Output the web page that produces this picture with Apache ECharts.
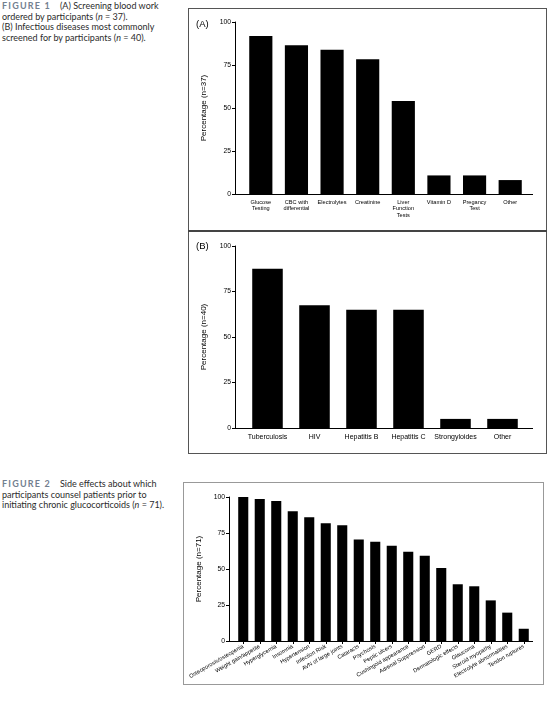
<!DOCTYPE html>
<html>
<head>
<meta charset="utf-8">
<script src="https://cdn.jsdelivr.net/npm/echarts@6/dist/echarts.min.js"></script>
<style>
  html, body { margin: 0; padding: 0; background: #fff; }
  #wrap { position: relative; width: 556px; height: 704px; }
  #chart { position: absolute; left: 0; top: 0; width: 556px; height: 704px; }
  .cap { position: absolute; left: 2px; font-family: Lato, "Open Sans", sans-serif; font-size: 9px; line-height: 10.5px; color: #2b2b2b; white-space: nowrap; }
  .fig { font-weight: bold; color: #72808f; letter-spacing: 1.2px; margin-right: 9px; }
  .box { position: absolute; box-sizing: border-box; }
</style>
</head>
<body>
<div id="wrap">
  <div class="box" style="left:188px;top:8px;width:359px;height:446px;border:1px solid #555;"></div>
  <div class="box" style="left:188px;top:230px;width:359px;height:2px;background:#444;"></div>
  <div class="box" style="left:183px;top:482px;width:361px;height:203px;border:1px solid #999;"></div>
  <div class="cap" style="top:1px;">
    <span class="fig">FIGURE 1</span>(A) Screening blood work<br>
    ordered by participants (<i>n</i> = 37).<br>
    (B) Infectious diseases most commonly<br>
    screened for by participants (<i>n</i> = 40).
  </div>
  <div class="cap" style="top:479px;">
    <span class="fig">FIGURE 2</span>Side effects about which<br>
    participants counsel patients prior to<br>
    initiating chronic glucocorticoids (<i>n</i> = 71).
  </div>
  <div id="chart"></div>
</div>
<script>
// Figure 1A - screening blood work (n=37)
var bloodCategories = ['Glucose\nTesting', 'CBC with\ndifferential', 'Electrolytes', 'Creatinine',
  'Liver\nFunction\nTests', 'Vitamin D', 'Pregancy\nTest', 'Other'];
var bloodValues = [91.9, 86.5, 83.8, 78.4, 54.1, 10.8, 10.8, 8.1];

// Figure 1B - infectious diseases (n=40)
var infectCategories = ['Tuberculosis', 'HIV', 'Hepatitis B', 'Hepatitis C', 'Strongyloides', 'Other'];
var infectValues = [87.5, 67.5, 65, 65, 5, 5];

// Figure 2 - side effects (n=71)
var sideCategories = ['Osteoporosis/osteopenia', 'Weight gain/appetite', 'Hyperglycemia', 'Insomnia',
  'Hypertension', 'Infection Risk', 'AVN of large joints', 'Cataracts', 'Psychosis', 'Peptic ulcers',
  'Cushingoid appearance', 'Adrenal Suppression', 'GERD', 'Dermatologic effects', 'Glaucoma',
  'Steroid myopathy', 'Electrolyte abnormalities', 'Tendon ruptures'];
var sideValues = [100, 98.6, 97.2, 90.1, 85.9, 81.7, 80.3, 70.4, 69.0, 66.2, 62.0, 59.2, 50.7,
  39.4, 38.0, 28.2, 19.7, 8.5];

var yTicks = [0, 25, 50, 75, 100];

var font = 'Liberation Sans';

function yAxisFor(idx, name, off, gap, nameSize) {
  return {
    type: 'value', gridIndex: idx, min: 0, max: 100, interval: 25, offset: off,
    name: name, nameLocation: 'middle', nameGap: gap,
    nameTextStyle: { fontFamily: font, fontSize: nameSize, color: '#000' },
    axisLine: { show: true, lineStyle: { color: '#000', width: 1 } },
    axisTick: { show: true, length: 3, lineStyle: { color: '#000' } },
    axisLabel: { fontFamily: font, fontSize: 6.8, color: '#000', margin: 4,
      formatter: function (v) { return yTicks.indexOf(v) >= 0 ? v : ''; } },
    splitLine: { show: false }
  };
}

var myChart = echarts.init(document.getElementById('chart'));
var option = {
  animation: false,
  title: [
    { text: '(A)', left: 191, top: 14, textStyle: { fontFamily: font, fontSize: 9.5, fontWeight: 'normal', color: '#000' } },
    { text: '(B)', left: 191, top: 236, textStyle: { fontFamily: font, fontSize: 9.5, fontWeight: 'normal', color: '#000' } }
  ],
  grid: [
    { left: 243, top: 22, width: 285, height: 172 },
    { left: 244, top: 246, width: 282, height: 182 },
    { left: 235, top: 497, width: 297, height: 144 }
  ],
  xAxis: [
    { type: 'category', gridIndex: 0, data: bloodCategories,
      axisLine: { lineStyle: { color: '#000' } }, axisTick: { show: false },
      axisLabel: { fontFamily: font, fontSize: 5.6, color: '#000', margin: 5, lineHeight: 6.5, interval: 0 } },
    { type: 'category', gridIndex: 1, data: infectCategories,
      axisLine: { lineStyle: { color: '#000' } }, axisTick: { show: false },
      axisLabel: { fontFamily: font, fontSize: 7, color: '#000', margin: 6, interval: 0 } },
    { type: 'category', gridIndex: 2, data: sideCategories,
      axisLine: { lineStyle: { color: '#000' } },
      axisTick: { show: true, alignWithLabel: true, length: 3, lineStyle: { color: '#000' } },
      axisLabel: { fontFamily: font, fontSize: 5.6, color: '#000', margin: 5, rotate: 30, interval: 0 } }
  ],
  yAxis: [
    yAxisFor(0, 'Percentage (n=37)', 8, 27, 8),
    yAxisFor(1, 'Percentage (n=40)', 9, 27, 8),
    yAxisFor(2, 'Percentage (n=71)', 6, 25, 8)
  ],
  graphic: [
    // baseline extensions so the x-axis line meets the offset y-axis, as in Prism
    { type: 'line', shape: { x1: 235, y1: 194.5, x2: 533, y2: 194.5 }, style: { stroke: '#000', lineWidth: 1 } },
    { type: 'line', shape: { x1: 235, y1: 428.5, x2: 533, y2: 428.5 }, style: { stroke: '#000', lineWidth: 1 } },
    { type: 'line', shape: { x1: 229, y1: 641.5, x2: 533, y2: 641.5 }, style: { stroke: '#000', lineWidth: 1 } }
  ],
  series: [
    { type: 'bar', xAxisIndex: 0, yAxisIndex: 0, data: bloodValues, barWidth: '65%',
      itemStyle: { color: '#000' } },
    { type: 'bar', xAxisIndex: 1, yAxisIndex: 1, data: infectValues, barWidth: '65%',
      itemStyle: { color: '#000' } },
    { type: 'bar', xAxisIndex: 2, yAxisIndex: 2, data: sideValues, barWidth: '61%',
      itemStyle: { color: '#000' } }
  ]
};
myChart.setOption(option);
</script>
</body>
</html>
